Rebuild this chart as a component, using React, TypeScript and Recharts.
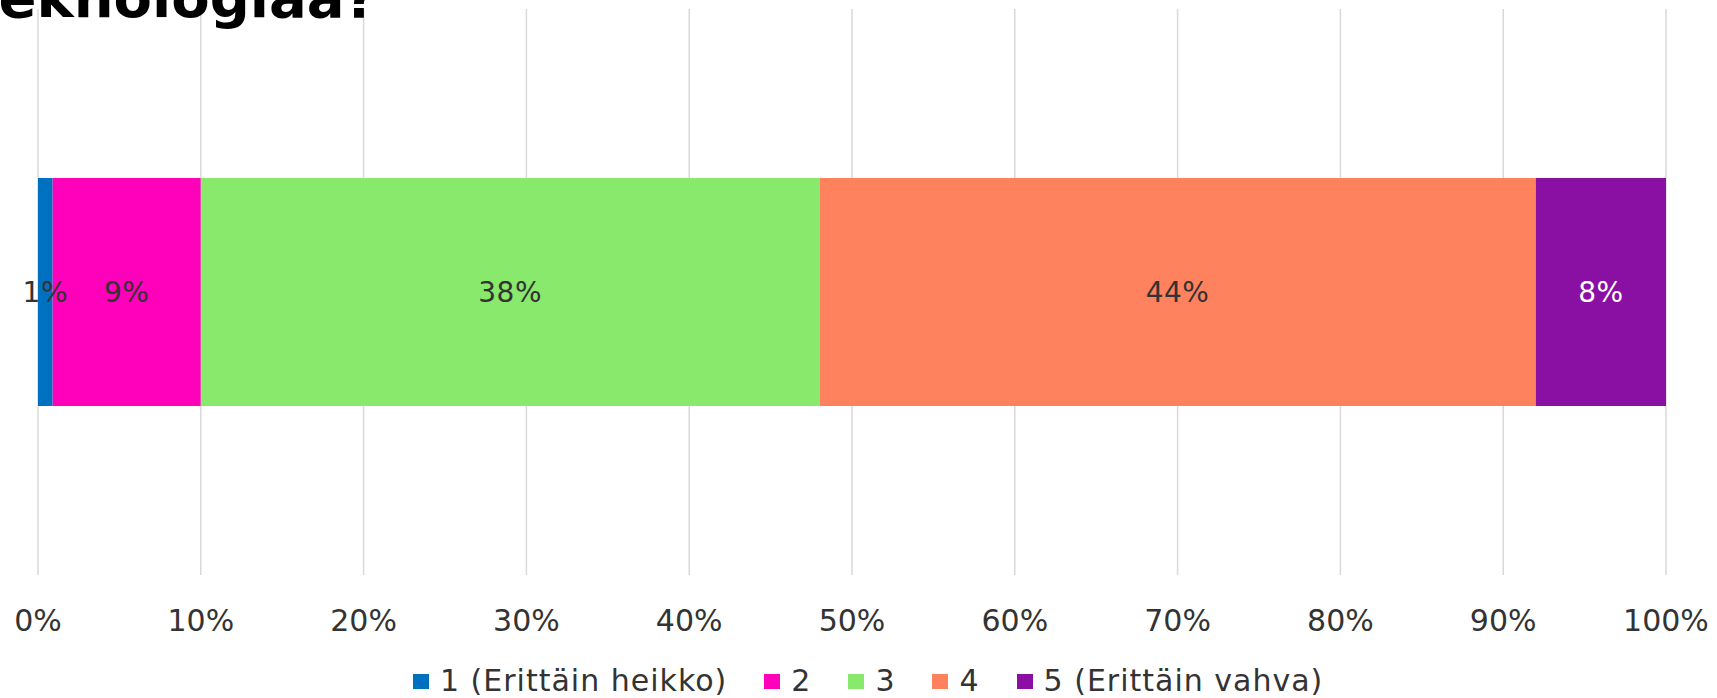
import { BarChart, Bar, XAxis, YAxis, CartesianGrid, LabelList } from "recharts";

const categories = ["Vastaukset"];
const seriesNames = ["1 (Erittäin heikko)", "2", "3", "4", "5 (Erittäin vahva)"];
const seriesValues = [0.9, 9.1, 38, 44, 8];
const seriesColors = ["#0070c0", "#ff00bb", "#88e96c", "#ff825f", "#8a0fa3"];
const labelColors = ["#333333", "#333333", "#333333", "#333333", "#ffffff"];
const xTicks = [0, 10, 20, 30, 40, 50, 60, 70, 80, 90, 100];
const titleText = "teknologiaa?";

const FONT = "'DejaVu Sans', Verdana, sans-serif";

const data = categories.map((name) => {
  const row: Record<string, string | number> = { name };
  seriesValues.forEach((v, i) => {
    row[`s${i}`] = v;
  });
  return row;
});

export default function App() {
  return (
    <div
      style={{
        position: "absolute",
        left: 0,
        top: 0,
        width: 1717,
        height: 698,
        background: "#fff",
        fontFamily: FONT,
        overflow: "hidden",
      }}
    >
      <BarChart
        layout="vertical"
        width={1717}
        height={698}
        data={data}
        margin={{ top: 9, right: 51, left: 38, bottom: 63 }}
      >
        <CartesianGrid horizontal={false} stroke="#d9d9d9" strokeWidth={1.5} />
        <XAxis
          type="number"
          domain={[0, 100]}
          ticks={xTicks}
          tickFormatter={(v) => `${v}%`}
          axisLine={false}
          tickLine={false}
          tickSize={0}
          tickMargin={35}
          height={60}
          interval={0}
          tick={{ fill: "#333333", fontSize: 30, fontFamily: FONT }}
        />
        <YAxis type="category" dataKey="name" hide />
        {seriesNames.map((n, i) => (
          <Bar
            key={n}
            dataKey={`s${i}`}
            name={n}
            stackId="a"
            fill={seriesColors[i]}
            barSize={228}
            isAnimationActive={false}
          >
            <LabelList
              dataKey={`s${i}`}
              position="center"
              formatter={(v: number) => `${Math.round(v)}%`}
              fill={labelColors[i]}
              fontSize={28}
              fontFamily={FONT}
              style={{ letterSpacing: 0.5 }}
            />
          </Bar>
        ))}
      </BarChart>

      <svg
        width={1717}
        height={60}
        style={{ position: "absolute", left: 0, top: 0, pointerEvents: "none" }}
      >
        <text
          x={377}
          y={17}
          textAnchor="end"
          fontSize={56}
          fontWeight="bold"
          fontFamily={FONT}
          fill="#000"
        >
          {titleText}
        </text>
      </svg>

      <div
        style={{
          position: "absolute",
          left: 413,
          top: 666,
          height: 30,
          display: "flex",
          alignItems: "center",
          fontSize: 30,
          letterSpacing: 1,
          color: "#333333",
          whiteSpace: "nowrap",
        }}
      >
        {seriesNames.map((n, i) => (
          <div
            key={n}
            style={{ display: "flex", alignItems: "center", marginRight: i < seriesNames.length - 1 ? 37 : 0 }}
          >
            <span style={{ width: 16, height: 15, background: seriesColors[i], display: "inline-block" }} />
            <span style={{ marginLeft: 11, lineHeight: "30px" }}>{n}</span>
          </div>
        ))}
      </div>
    </div>
  );
}
